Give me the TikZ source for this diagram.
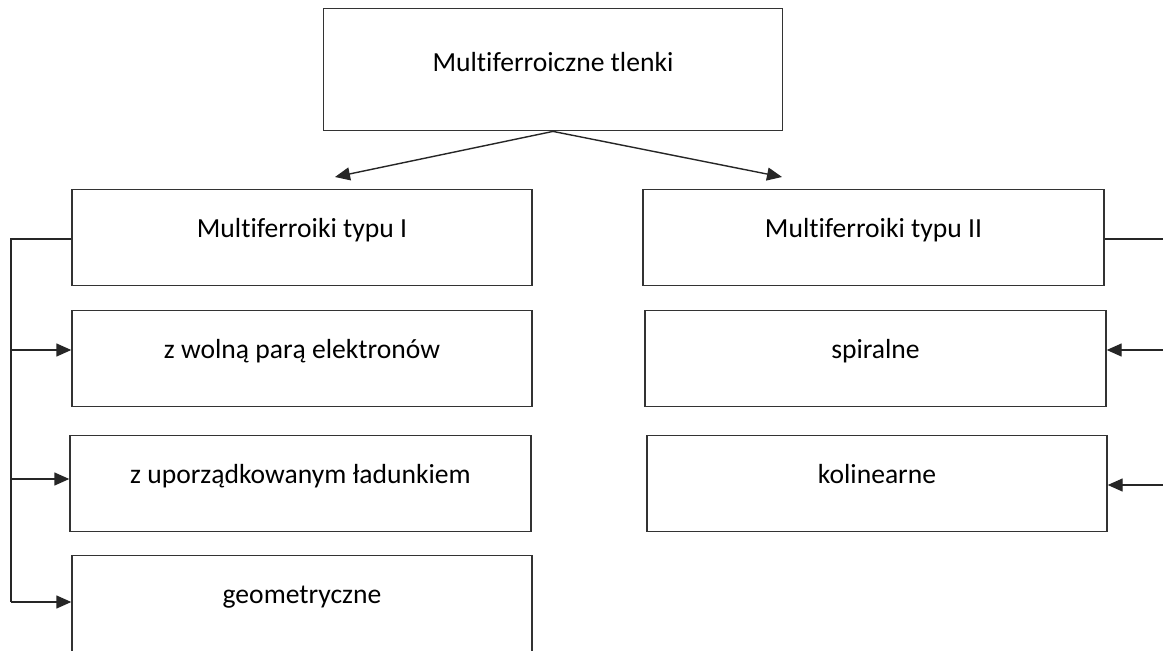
\documentclass[tikz,border=0pt]{standalone}
\usepackage{fontspec}
\setmainfont{Carlito}[Ligatures={NoCommon,NoRare,NoContextual}]
\usetikzlibrary{arrows.meta}
\begin{document}
\begin{tikzpicture}[x=1pt,y=1pt,
  box/.style={draw=black!80,line width=1.4pt,fill=white,inner sep=0pt,anchor=north,
    minimum height=96pt,text height=48pt,text depth=48pt,
    font=\fontsize{27.6}{33}\selectfont},
  conn/.style={draw=black!85,line width=1.4pt},
  arr/.style={conn,-{Triangle[length=15pt,width=13pt]}}]
\useasboundingbox (0,0) rectangle (1163,-651);
\clip (0,0) rectangle (1163,-651);
\fill[white] (0,0) rectangle (1163,-651);
% top
\node[box,minimum width=459pt,minimum height=122pt,text height=63pt,text depth=59pt] (top) at (553,-8) {Multiferroiczne tlenki};
% left column
\node[box,minimum width=460pt] (b1) at (302,-189) {Multiferroiki typu I};
\node[box,minimum width=460pt] (b2) at (302,-310) {z wolną parą elektronów};
\node[box,minimum width=461pt] (b3) at (300.5,-435) {z uporządkowanym ładunkiem};
\node[box,minimum width=460pt] (b4) at (302,-555) {geometryczne};
% right column
\node[box,minimum width=461pt] (r1) at (873.5,-189) {Multiferroiki typu II};
\node[box,minimum width=461pt] (r2) at (875.5,-310) {spiralne};
\node[box,minimum width=460pt] (r3) at (877,-435) {kolinearne};
% arrows from top
\coordinate (tl) at (335,-177);
\coordinate (tr) at (782,-177);
\draw[arr] (top.south) -- (tl);
\draw[arr] (top.south) -- (tr);
% left bus
\coordinate (l1) at (11,-239);
\coordinate (l2) at (11,-350);
\coordinate (l3) at (11,-479);
\coordinate (l4) at (11,-602);
\draw[conn] (b1.west |- l1) -- (l1) -- (l4);
\draw[arr] (l2) -- (b2.west |- l2);
\draw[arr] (l3) -- (b3.west |- l3);
\draw[arr] (l4) -- (b4.west |- l4);
% right bus
\coordinate (q1) at (1164,-239);
\coordinate (q2) at (1164,-350);
\coordinate (q3) at (1164,-485);
\draw[conn] (r1.east |- q1) -- (q1);
\draw[arr] (q2) -- (r2.east |- q2);
\draw[arr] (q3) -- (r3.east |- q3);
\end{tikzpicture}
\end{document}
